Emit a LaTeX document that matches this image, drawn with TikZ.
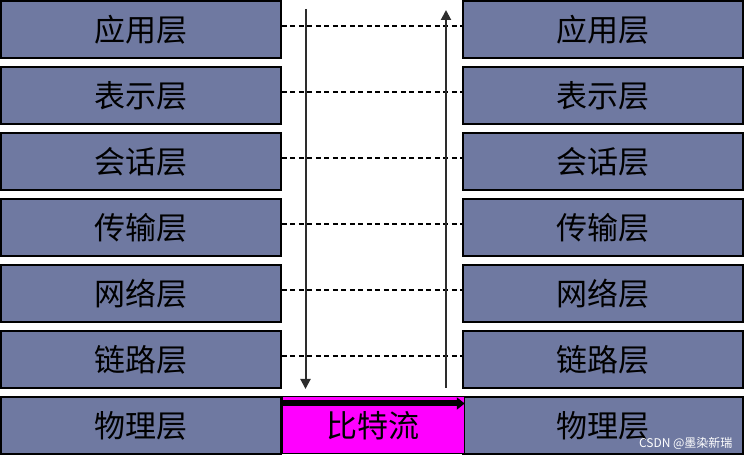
\documentclass[tikz,border=0pt]{standalone}
\usepackage{fontspec}
\newfontfamily\cjk{Noto Sans CJK SC}
\usetikzlibrary{arrows.meta}
\definecolor{layerblue}{RGB}{111,121,161}
\definecolor{lineGray}{RGB}{45,45,45}
\definecolor{bitmagenta}{RGB}{255,0,255}
\tikzset{
  x=1pt,y=1pt,
  layer/.style={draw=black,line width=1.5pt,fill=layerblue,minimum width=280pt,minimum height=57pt,inner sep=0pt,font=\cjk\fontsize{31}{31}\selectfont,text=black},
  bitbox/.style={draw=black,line width=1pt,fill=bitmagenta,minimum width=182pt,minimum height=57pt,inner sep=0pt,font=\cjk\fontsize{31}{31}\selectfont,text=black},
  peer/.style={dash pattern=on 5pt off 3.5pt,line width=1.4pt,black},
  flow/.style={line width=2pt,lineGray,-{Triangle[length=10pt,width=10pt]}},
}
\begin{document}
\begin{tikzpicture}
\useasboundingbox (0,0) rectangle (745,457);
\foreach \i/\t in {1/应用层,2/表示层,3/会话层,4/传输层,5/网络层,6/链路层,7/物理层}{
  \pgfmathsetmacro{\yc}{457-(29.5+66*(\i-1))}
  \node[layer] (L\i) at (141,\yc) {\t};
  \node[layer] (R\i) at (603,\yc) {\t};
}
\node[bitbox,anchor=west] (M) at (L7.east) {\raisebox{-5pt}{比特流}};
\foreach \i in {1,...,6}{
  \draw[peer] ([yshift=3.5pt]L\i.east) -- ([yshift=3.5pt]R\i.west);
}
\coordinate (dtop) at (305.5,448);
\coordinate (dbot) at (305.5,68);
\coordinate (ubot) at (446,69);
\coordinate (utop) at (446,447);
\draw[flow] (dtop) -- (dbot);
\draw[flow] (ubot) -- (utop);
\draw[line width=6pt,black,-{Triangle[length=8pt,width=12pt]}] ([yshift=-7pt]M.north west) -- ([yshift=-7pt]M.north east);
\node[font=\cjk\fontsize{12}{12}\selectfont,text=white,anchor=east] (wm) at (736,14) {CSDN @墨染新瑞};
\end{tikzpicture}
\end{document}
